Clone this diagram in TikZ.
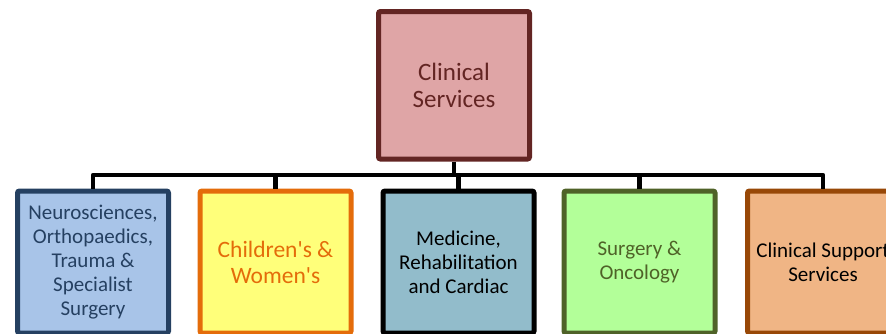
\documentclass[tikz,border=0pt]{standalone}
\usepackage{fontspec}
\setmainfont{Carlito}[Ligatures=TeXOff]
\begin{document}
\begin{tikzpicture}[x=1pt,y=1pt,
  unit/.style={draw, rectangle, rounded corners=2pt, line width=5pt,
    minimum width=151pt, align=center, inner sep=0pt},
  headbox/.style={unit, minimum height=147.5pt, fill=headfill, draw=headline,
    text=headline, font=\fontsize{25}{27}\selectfont},
  deptbox/.style={unit, minimum height=142pt, font=\fontsize{21}{24}\selectfont},
  link/.style={line width=4.6pt, line join=round}]
\definecolor{headfill}{HTML}{DFA5A6}
\definecolor{headline}{HTML}{632523}
\definecolor{neurofill}{HTML}{A8C4E8}
\definecolor{neuroline}{HTML}{254061}
\definecolor{childfill}{HTML}{FFFF7A}
\definecolor{childline}{HTML}{E46C0A}
\definecolor{medfill}{HTML}{92BCCB}
\definecolor{surgfill}{HTML}{B3FF99}
\definecolor{surgline}{HTML}{4F6228}
\definecolor{suppfill}{HTML}{F0B585}
\definecolor{suppline}{HTML}{984807}
\useasboundingbox (0,0) rectangle (886,-333);
\clip (0,0) rectangle (886,-333);

\node[headbox] (top) at (454,-85.25) {Clinical\\Services};

\node[deptbox, fill=neurofill, draw=neuroline, text=neuroline] (b1) at (93,-262)
  {Neurosciences,\\Orthopaedics,\\Trauma \&\\Specialist\\Surgery};
\node[deptbox, fill=childfill, draw=childline, text=childline,
  font=\fontsize{23.5}{26}\selectfont] (b2) at (275.5,-262)
  {Children's \&\\Women's};
\node[deptbox, fill=medfill, draw=black, text=black] (b3) at (458.5,-262)
  {Medicine,\\Rehabilitation\\and Cardiac};
\node[deptbox, fill=surgfill, draw=surgline, text=surgline] (b4) at (639.5,-262)
  {Surgery \&\\Oncology};
\node[deptbox, fill=suppfill, draw=suppline, text=black] (b5) at (823,-262)
  {Clinical Support\\Services};

\coordinate (bus) at (0,-175);
\draw[link] (top.south) -- (top.south |- bus);
\draw[link] (b1.north) -- (b1.north |- bus) -- (b5.north |- bus) -- (b5.north);
\foreach \b in {b2,b3,b4}
  \draw[link] (\b.north) -- (\b.north |- bus);
\end{tikzpicture}
\end{document}
